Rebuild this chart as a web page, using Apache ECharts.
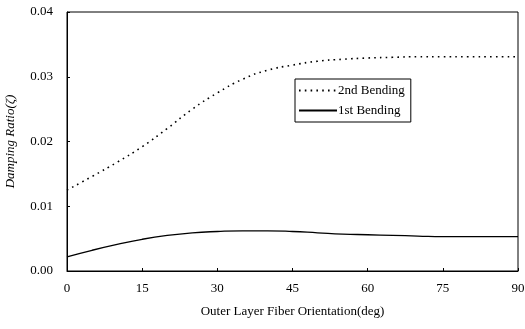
<!DOCTYPE html>
<html><head><meta charset="utf-8">
<script src="https://cdn.jsdelivr.net/npm/echarts@6/dist/echarts.min.js"></script>
<style>html,body{margin:0;padding:0;background:#fff}#c{width:525px;height:329px}</style>
</head><body><div id="c"></div>
<script>
const angles = [0, 5, 10, 15, 20, 25, 30, 35, 40, 45, 50, 55, 60, 65, 70, 75, 80, 85, 90];
const secondBending = [0.0125, 0.0146, 0.0168, 0.0192, 0.0220, 0.0250, 0.0275, 0.0296, 0.0310, 0.0318, 0.0324, 0.0327, 0.0329, 0.0330, 0.0331, 0.0331, 0.0331, 0.0331, 0.0331];
const firstBending = [0.0022, 0.0032, 0.0041, 0.0049, 0.0055, 0.0059, 0.0061, 0.0062, 0.0062, 0.0061, 0.0059, 0.0057, 0.0056, 0.0055, 0.0054, 0.0053, 0.0053, 0.0053, 0.0053];
const seriesNames = ['2nd Bending', '1st Bending'];
const xName = 'Outer Layer Fiber Orientation(deg)';
const yName = 'Damping Ratio(ζ)';

const font = 'Liberation Serif';
const chart = echarts.init(document.getElementById('c'));
chart.setOption({
  backgroundColor: '#fff',
  animation: false,
  grid: { left: 67, right: 7, top: 12, bottom: 58, show: true, borderColor: '#000', borderWidth: 1, outerBoundsMode: 'none', containLabel: false },
  legend: {
    left: 295, top: 79, orient: 'vertical', itemWidth: 38, itemHeight: 10, itemGap: 7,
    padding: [5, 6, 5, 3], borderColor: '#000', borderWidth: 1, backgroundColor: '#fff',
    itemStyle: { opacity: 0 },
    textStyle: { fontFamily: font, fontSize: 13, color: '#000', padding: [0,0,0,-4] },
    data: seriesNames
  },
  xAxis: {
    type: 'value', min: 0, max: 90, interval: 15,
    name: xName, nameLocation: 'middle', nameGap: 34,
    nameTextStyle: { fontFamily: font, fontSize: 13, color: '#000' },
    axisLine: { lineStyle: { color: '#000', width: 1 } },
    axisTick: { inside: true, length: 3, lineStyle: { color: '#000' } },
    axisLabel: { fontFamily: font, fontSize: 13, color: '#000', margin: 11 },
    splitLine: { show: false }
  },
  yAxis: {
    type: 'value', min: 0, max: 0.04, interval: 0.01,
    name: yName, nameLocation: 'middle', nameGap: 50,
    nameTextStyle: { fontFamily: font, fontSize: 13, color: '#000', fontStyle: 'italic' },
    axisLine: { show: true, lineStyle: { color: '#000', width: 1 } },
    axisTick: { show: true, inside: true, length: 3, lineStyle: { color: '#000' } },
    axisLabel: { fontFamily: font, fontSize: 13, color: '#000', margin: 14, formatter: v => v.toFixed(2) },
    splitLine: { show: false }
  },
  series: [
    { name: seriesNames[0], type: 'line', smooth: true, showSymbol: false, symbol: 'none',
      data: angles.map((a, i) => [a, secondBending[i]]),
      lineStyle: { color: '#000', width: 1.6, type: [1.6, 4.2] }, itemStyle: { color: '#000' } },
    { name: seriesNames[1], type: 'line', smooth: true, showSymbol: false, symbol: 'none',
      data: angles.map((a, i) => [a, firstBending[i]]),
      lineStyle: { color: '#000', width: 1.3 }, itemStyle: { color: '#000' } }
  ]
});
</script></body></html>
